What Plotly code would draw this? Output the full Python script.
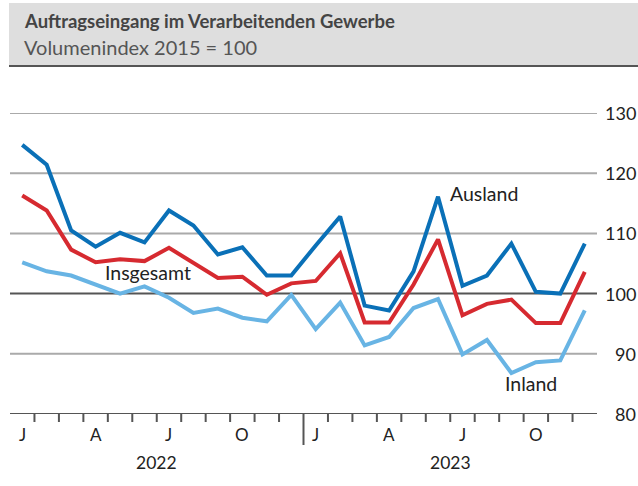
import plotly.graph_objects as go

# ---- data ----
months = list(range(24))  # Jan 2022 .. Dec 2023
ausland = [124.7, 121.4, 110.5, 107.8, 110.1, 108.5, 113.8, 111.3, 106.5, 107.7, 103.0, 103.0,
           108.0, 112.8, 98.0, 97.2, 103.7, 116.1, 101.3, 103.0, 108.3, 100.3, 100.0, 108.3]
insgesamt = [116.3, 113.8, 107.3, 105.2, 105.7, 105.4, 107.6, 105.1, 102.6, 102.8, 99.8, 101.7,
             102.1, 106.7, 95.2, 95.2, 101.5, 109.0, 96.4, 98.3, 99.0, 95.1, 95.1, 103.6]
inland = [105.2, 103.7, 103.0, 101.5, 100.0, 101.2, 99.3, 96.8, 97.5, 96.0, 95.4, 99.8,
          94.1, 98.5, 91.4, 92.8, 97.6, 99.1, 89.9, 92.3, 86.8, 88.6, 88.9, 97.2]
month_labels = ["J", "A", "J", "O", "J", "A", "J", "O"]
month_label_pos = [0, 3, 6, 9, 12, 15, 18, 21]
year_labels = ["2022", "2023"]
year_label_pos = [5.5, 17.5]
y_ticks = [80, 90, 100, 110, 120, 130]

title = "Auftragseingang im Verarbeitenden Gewerbe"
subtitle = "Volumenindex 2015 = 100"

FONT = "Lato"
C_AUS = "#0a70b7"
C_INS = "#d62a30"
C_INL = "#68b4e4"
C_TXT = "#222222"

fig = go.Figure()
for vals, col, name in [(inland, C_INL, "Inland"), (insgesamt, C_INS, "Insgesamt"), (ausland, C_AUS, "Ausland")]:
    fig.add_trace(go.Scatter(x=months, y=vals, mode="lines", name=name,
                             line=dict(color=col, width=4), hoverinfo="skip"))

W, H = 638, 486
L, R, T, B = 10, 41, 113, 72
pw = W - L - R
ph = H - T - B

def px_x(px):
    return (px - L) / pw

def px_y(py):
    return (H - B - py) / ph

shapes = []
# header band
shapes.append(dict(type="rect", xref="paper", yref="paper", x0=px_x(9), x1=px_x(638),
                   y0=px_y(65), y1=px_y(3), fillcolor="#dedede", line=dict(width=0), layer="below"))
shapes.append(dict(type="line", xref="paper", yref="paper", x0=px_x(9), x1=px_x(638),
                   y0=px_y(66), y1=px_y(66), line=dict(color="#555555", width=2)))
# grid lines
for v in y_ticks:
    if v == 100 or v == 80:
        col = "#555555"
    else:
        col = "#aaaaaa"
    shapes.append(dict(type="line", xref="paper", yref="y", x0=0, x1=1, y0=v, y1=v,
                       line=dict(color=col, width=2), layer="below"))
# month tick marks
for k in range(23):
    xk = k + 0.5
    y1 = px_y(445) if k == 11 else px_y(422)
    shapes.append(dict(type="line", xref="x", yref="paper", x0=xk, x1=xk, y0=0, y1=y1,
                       line=dict(color="#555555", width=2)))

annotations = []
annotations.append(dict(text="<b>" + title + "</b>", xref="paper", yref="paper", x=px_x(22), y=px_y(21),
                        xanchor="left", yanchor="middle", showarrow=False,
                        font=dict(family=FONT, size=18.5, color="#444444")))
annotations.append(dict(text=subtitle, xref="paper", yref="paper", x=px_x(22), y=px_y(47),
                        xanchor="left", yanchor="middle", showarrow=False,
                        font=dict(family=FONT, size=20, color="#555555")))
for v in y_ticks:
    annotations.append(dict(text=str(v), xref="paper", yref="y", x=px_x(638), y=v,
                            xanchor="right", yanchor="middle", showarrow=False,
                            font=dict(family=FONT, size=18, color=C_TXT)))
for lab, pos in zip(month_labels, month_label_pos):
    annotations.append(dict(text=lab, xref="x", yref="paper", x=pos, y=px_y(435),
                            xanchor="center", yanchor="middle", showarrow=False,
                            font=dict(family=FONT, size=17, color=C_TXT)))
for lab, pos in zip(year_labels, year_label_pos):
    annotations.append(dict(text=lab, xref="x", yref="paper", x=pos, y=px_y(462),
                            xanchor="center", yanchor="middle", showarrow=False,
                            font=dict(family=FONT, size=17.5, color=C_TXT)))
# series labels
annotations.append(dict(text="Ausland", xref="paper", yref="paper", x=px_x(448), y=px_y(193),
                        xanchor="left", yanchor="middle", showarrow=False,
                        font=dict(family=FONT, size=19.5, color=C_TXT)))
annotations.append(dict(text="Insgesamt", xref="paper", yref="paper", x=px_x(103), y=px_y(272),
                        xanchor="left", yanchor="middle", showarrow=False,
                        font=dict(family=FONT, size=19.5, color=C_TXT)))
annotations.append(dict(text="Inland", xref="paper", yref="paper", x=px_x(503), y=px_y(383),
                        xanchor="left", yanchor="middle", showarrow=False,
                        font=dict(family=FONT, size=19.5, color=C_TXT)))

fig.update_layout(
    width=W, height=H,
    margin=dict(l=L, r=R, t=T, b=B, pad=0),
    paper_bgcolor="white", plot_bgcolor="white",
    showlegend=False,
    font=dict(family=FONT),
    xaxis=dict(range=[-0.5, 23.5], showgrid=False, zeroline=False, showticklabels=False,
               ticks="", showline=False, fixedrange=True),
    yaxis=dict(range=[80, 130], showgrid=False, zeroline=False, showticklabels=False,
               ticks="", showline=False, fixedrange=True),
    shapes=shapes,
    annotations=annotations,
)

fig.write_html("out.html", config={"displayModeBar": False},
               post_script="document.body.style.margin='0';document.body.style.overflow='hidden';")
